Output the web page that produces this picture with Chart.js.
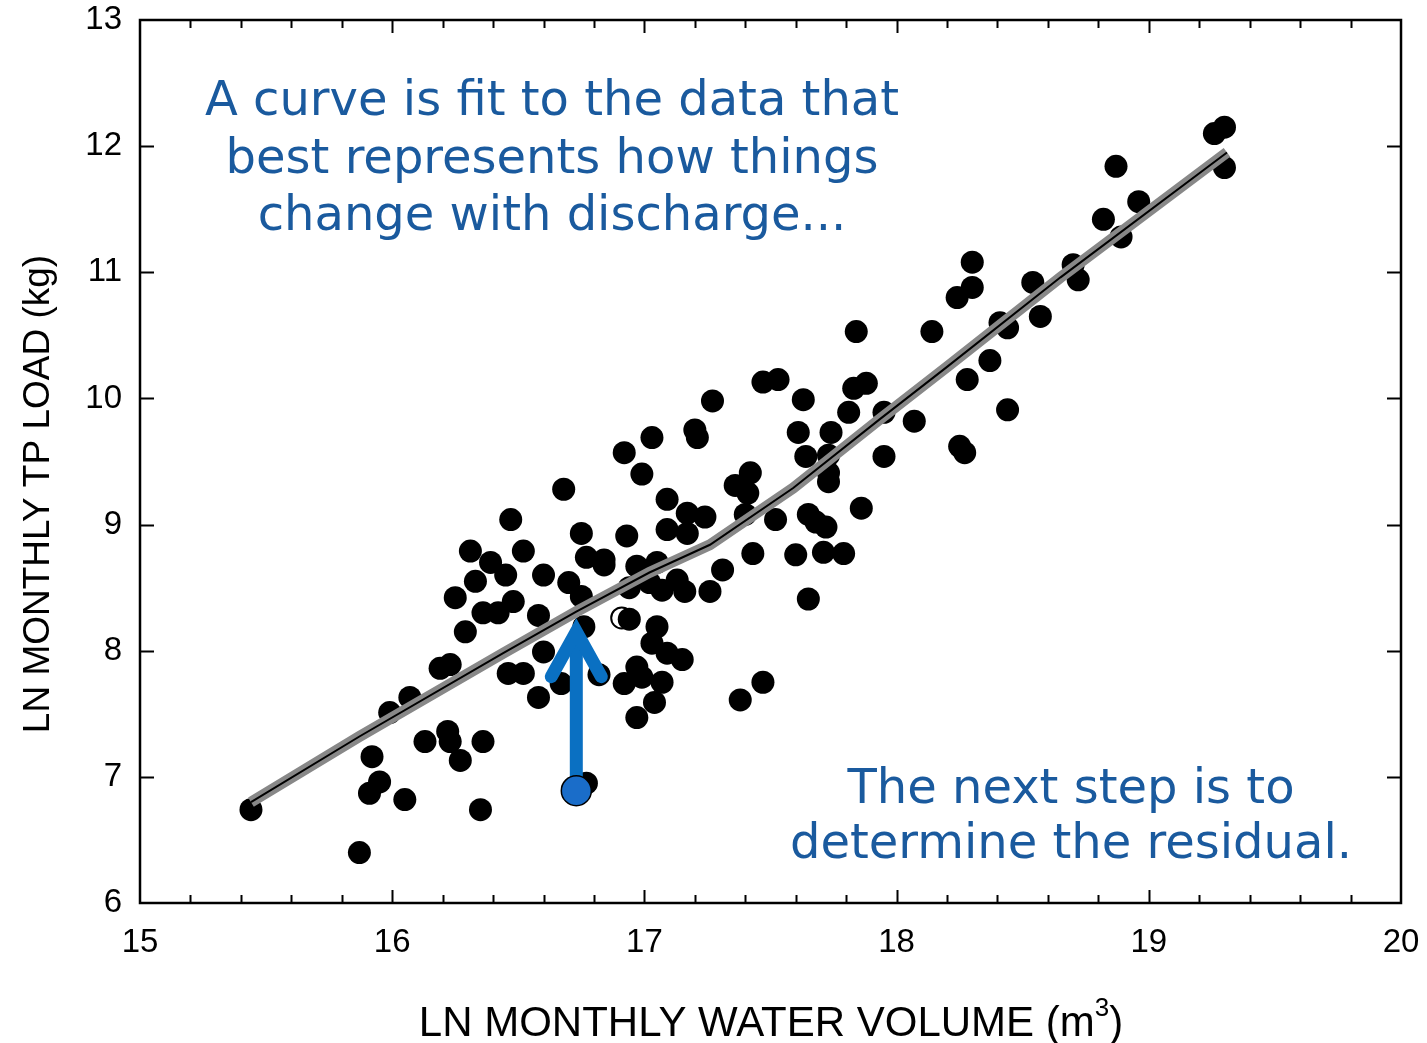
<!DOCTYPE html>
<html>
<head>
<meta charset="utf-8">
<script src="https://cdn.jsdelivr.net/npm/chart.js@4.4.1/dist/chart.umd.min.js"></script>
<style>
  html, body { margin: 0; padding: 0; background: #ffffff; }
  #wrap { width: 1427px; height: 1043px; }
</style>
</head>
<body>
<div id="wrap"><canvas id="c" width="1427" height="1043"></canvas></div>
<script>
// Monthly observations: ln(water volume, m3) vs ln(TP load, kg)
const volume = [
  15.44, 15.87, 15.92, 15.91, 15.95, 15.99, 16.05, 16.07, 16.13, 16.22,
  16.23, 16.27, 16.36, 16.35, 16.19, 16.23, 16.29, 16.25, 16.31, 16.39,
  16.45, 16.33, 16.47, 16.52, 16.36, 16.42, 16.48, 16.58, 16.60, 16.70,
  16.68, 16.75, 16.77, 16.84, 16.93, 16.97, 16.94, 16.60, 16.46, 16.52,
  16.58, 16.67, 16.76, 16.82, 16.92, 16.97, 16.94, 16.77, 16.84, 17.05,
  17.02, 17.07, 17.13, 17.16, 17.26, 17.31, 17.43, 17.60, 17.71, 17.79,
  17.65, 17.86, 17.95, 18.07, 17.95, 17.81, 17.74, 17.61, 17.64, 17.73,
  17.73, 17.73, 17.36, 17.42, 17.41, 17.40, 17.52, 17.65, 17.68, 17.72,
  17.47, 17.53, 17.63, 17.83, 17.88, 16.92, 17.03, 17.27, 17.20, 17.21,
  16.99, 17.09, 17.17, 17.24, 17.09, 17.17, 17.05, 17.03, 17.09, 17.15,
  16.97, 16.99, 17.07, 17.04, 17.47, 17.38, 18.30, 18.30, 18.24, 18.54,
  18.57, 18.41, 18.44, 18.37, 18.28, 18.44, 18.14, 17.84, 18.25, 18.27,
  19.30, 19.26, 19.30, 18.87, 18.96, 18.82, 18.89, 18.70, 18.72, 16.75
];
const tpLoad = [
  6.74, 6.40, 7.16, 6.87, 6.96, 7.51, 6.82, 7.63, 7.28, 7.36,
  7.28, 7.13, 7.28, 6.74, 7.86, 7.89, 8.15, 8.42, 8.79, 8.70,
  8.60, 8.55, 9.04, 8.79, 8.30, 8.30, 8.39, 8.28, 8.60, 8.54,
  9.28, 8.93, 8.74, 8.72, 8.91, 8.67, 8.50, 7.99, 7.82, 7.82,
  7.63, 7.74, 8.19, 7.81, 7.74, 7.47, 8.25, 6.95, 8.68, 8.70,
  8.54, 8.48, 8.56, 8.47, 8.47, 8.64, 8.77, 8.76, 8.78, 8.77,
  8.41, 9.13, 9.54, 9.82, 9.89, 9.89, 9.73, 9.73, 9.54, 9.55,
  9.41, 9.34, 9.31, 9.41, 9.25, 9.08, 9.04, 9.08, 9.02, 8.98,
  10.13, 10.15, 9.99, 10.08, 10.12, 9.57, 9.69, 9.98, 9.75, 9.69,
  9.40, 9.20, 9.09, 9.06, 8.96, 8.93, 8.19, 8.06, 7.98, 7.93,
  7.87, 7.79, 7.75, 7.59, 7.75, 7.61, 11.08, 10.88, 10.80, 10.92,
  10.65, 10.60, 10.56, 10.30, 10.15, 9.91, 10.53, 10.53, 9.62, 9.57,
  12.15, 12.10, 11.83, 11.84, 11.56, 11.42, 11.28, 11.06, 10.94, 8.43
];

// One observation recorded with an open symbol
const openVolume = [16.91];
const openLoad = [8.26];

// Fitted curve through the cloud
const fitVolume = [15.44, 15.87, 16.44, 16.73, 17.02, 17.26, 17.59, 17.93, 18.20, 18.65, 19.31];
const fitLoad   = [6.80, 7.32, 7.98, 8.31, 8.62, 8.84, 9.29, 9.83, 10.25, 10.96, 11.95];

// Highlighted month and its fitted value
const pickVolume = [16.73];
const pickLoad = [6.89];
const pickFitted = [8.31];

// Axis ticks
const xTicks = [15, 16, 17, 18, 19, 20];
const yTicks = [6, 7, 8, 9, 10, 11, 12, 13];
const xMinorStep = 0.2;

const toPts = (xs, ys) => xs.map((v, i) => ({ x: v, y: ys[i] }));

const BLUE_TEXT = '#1a5a9e';
const ARROW_BLUE = '#0a70c2';

const LINE_DATASET = 3;

const axesFrame = {
  id: 'axesFrame',
  beforeDatasetsDraw(chart) {
    const { ctx, chartArea: a, scales: { x, y } } = chart;
    ctx.save();
    ctx.strokeStyle = '#000';
    ctx.lineWidth = 2;
    ctx.beginPath();
    // minor / major ticks along x, top and bottom, pointing inwards
    const xMin = x.min, xMax = x.max;
    const n = Math.round((xMax - xMin) / xMinorStep);
    for (let i = 1; i < n; i++) {
      const v = xMin + i * xMinorStep;
      const px = Math.round(x.getPixelForValue(v)) + 0.5;
      const len = (i % 5 === 0) ? 13 : 8;
      ctx.moveTo(px, a.bottom); ctx.lineTo(px, a.bottom - len);
      ctx.moveTo(px, a.top); ctx.lineTo(px, a.top + len);
    }
    // y ticks, left and right
    yTicks.forEach(v => {
      if (v === y.min || v === y.max) return;
      const py = Math.round(y.getPixelForValue(v)) + 0.5;
      ctx.moveTo(a.left, py); ctx.lineTo(a.left + 14, py);
      ctx.moveTo(a.right, py); ctx.lineTo(a.right - 14, py);
    });
    ctx.stroke();
    ctx.lineWidth = 2.5;
    ctx.strokeRect(a.left, a.top, a.right - a.left, a.bottom - a.top);
    ctx.restore();
  },
  afterDatasetDraw(chart, args) {
    if (args.index !== LINE_DATASET) return;
    const { ctx, scales: { x, y } } = chart;
    const px = x.getPixelForValue(pickVolume[0]);
    const pFrom = y.getPixelForValue(pickLoad[0]);
    const apex = y.getPixelForValue(pickFitted[0]) + 20;
    ctx.save();
    ctx.strokeStyle = ARROW_BLUE;
    ctx.lineWidth = 13;
    ctx.lineCap = 'butt';
    ctx.beginPath();
    ctx.moveTo(px, pFrom);
    ctx.lineTo(px, apex + 6);
    ctx.stroke();
    ctx.lineCap = 'round';
    ctx.lineJoin = 'miter';
    ctx.beginPath();
    ctx.moveTo(px - 25, apex + 45);
    ctx.lineTo(px, apex);
    ctx.lineTo(px + 25, apex + 45);
    ctx.stroke();
    ctx.restore();
  },
  afterDraw(chart) {
    const { ctx } = chart;
    ctx.save();
    // annotations
    ctx.fillStyle = BLUE_TEXT;
    ctx.font = '48px "DejaVu Sans"';
    ctx.textAlign = 'center';
    ctx.textBaseline = 'alphabetic';
    ctx.fillText('A curve is fit to the data that', 552, 115);
    ctx.fillText('best represents how things', 552, 173);
    ctx.fillText('change with discharge...', 552, 230);
    ctx.fillText('The next step is to', 1071, 803);
    ctx.fillText('determine the residual.', 1071, 858);

    // y axis title
    ctx.fillStyle = '#000';
    ctx.font = '37px "Liberation Sans"';
    ctx.save();
    ctx.translate(49, 494);
    ctx.rotate(-Math.PI / 2);
    ctx.fillText('LN MONTHLY TP LOAD (kg)', 0, 0);
    ctx.restore();

    // x axis title with superscript
    const main = 'LN MONTHLY WATER VOLUME (m';
    const sup = '3';
    const close = ')';
    ctx.textAlign = 'left';
    ctx.font = '42px "Liberation Sans"';
    const w1 = ctx.measureText(main).width;
    const w3 = ctx.measureText(close).width;
    ctx.font = '26px "Liberation Sans"';
    const w2 = ctx.measureText(sup).width;
    let sx = 771 - (w1 + w2 + w3) / 2;
    const base = 1036;
    ctx.font = '42px "Liberation Sans"';
    ctx.fillText(main, sx, base);
    sx += w1;
    ctx.font = '26px "Liberation Sans"';
    ctx.fillText(sup, sx, base - 20);
    sx += w2;
    ctx.font = '42px "Liberation Sans"';
    ctx.fillText(close, sx, base);
    ctx.restore();
  }
};

function noOverflow(s) {
  s.paddingTop = 0; s.paddingBottom = 0; s.paddingLeft = 0; s.paddingRight = 0;
}

new Chart(document.getElementById('c'), {
  type: 'scatter',
  data: {
    datasets: [
      {
        label: 'open',
        data: toPts(openVolume, openLoad),
        pointRadius: 10.5,
        pointBackgroundColor: '#ffffff',
        pointBorderColor: '#000000',
        pointBorderWidth: 2,
        order: 6
      },
      {
        label: 'observed',
        data: toPts(volume, tpLoad),
        pointRadius: 11.5,
        pointBackgroundColor: '#000000',
        pointBorderWidth: 0,
        order: 5
      },
      {
        label: 'fit-halo',
        type: 'line',
        data: toPts(fitVolume, fitLoad),
        borderColor: '#888888',
        borderWidth: 11,
        borderCapStyle: 'butt',
        pointRadius: 0,
        tension: 0,
        fill: false,
        order: 4
      },
      {
        label: 'fit',
        type: 'line',
        data: toPts(fitVolume, fitLoad),
        borderColor: '#000000',
        borderWidth: 2,
        pointRadius: 0,
        tension: 0,
        fill: false,
        order: 3
      },
      {
        label: 'selected',
        data: toPts(pickVolume, pickLoad),
        pointRadius: 15,
        pointBackgroundColor: '#1a6dc9',
        pointBorderColor: '#000000',
        pointBorderWidth: 1.5,
        order: 1
      }
    ]
  },
  options: {
    responsive: false,
    animation: false,
    devicePixelRatio: 1,
    layout: { padding: { top: 20, right: 26, left: 0, bottom: 0 } },
    plugins: { legend: { display: false }, tooltip: { enabled: false } },
    scales: {
      x: {
        type: 'linear',
        min: xTicks[0],
        max: xTicks[xTicks.length - 1],
        afterFit(s) { s.height = 140; noOverflow(s); },
        afterBuildTicks(s) { s.ticks = xTicks.map(v => ({ value: v })); },
        grid: { display: false, drawTicks: false },
        border: { display: false },
        ticks: {
          color: '#000',
          padding: 20,
          maxRotation: 0,
          font: { family: 'Liberation Sans', size: 33 }
        }
      },
      y: {
        type: 'linear',
        min: yTicks[0],
        max: yTicks[yTicks.length - 1],
        afterFit(s) { s.width = 140; noOverflow(s); },
        afterBuildTicks(s) { s.ticks = yTicks.map(v => ({ value: v })); },
        grid: { display: false, drawTicks: false },
        border: { display: false },
        ticks: {
          color: '#000',
          padding: 18,
          font: { family: 'Liberation Sans', size: 33 }
        }
      }
    }
  },
  plugins: [axesFrame]
});
</script>
</body>
</html>
